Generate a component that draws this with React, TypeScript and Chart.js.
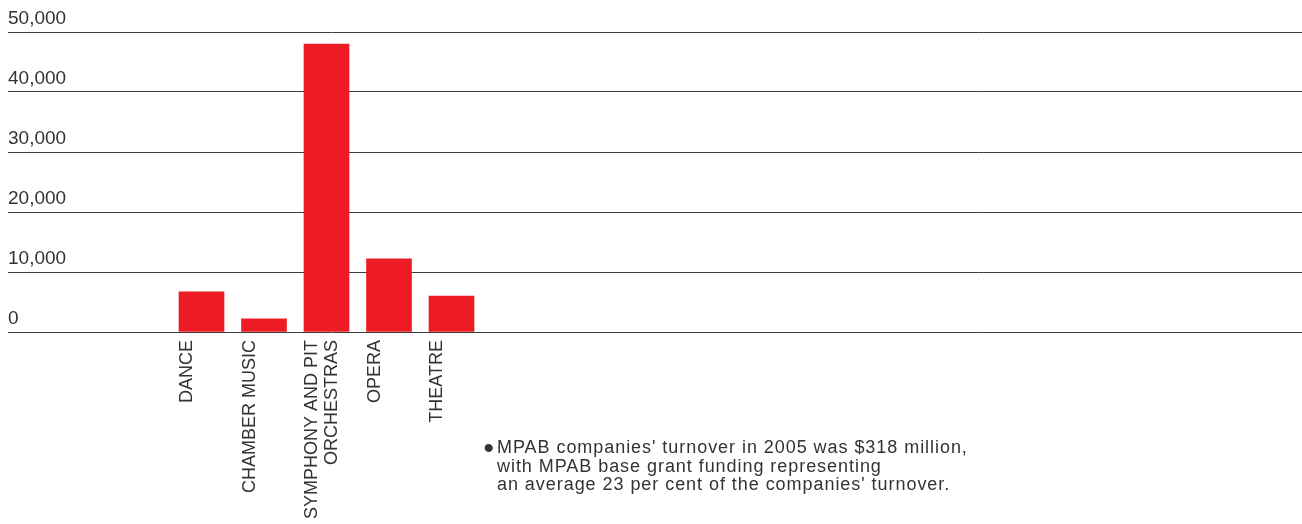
import React, { useEffect, useRef } from 'react';
import { Chart, registerables } from 'chart.js';

Chart.register(...registerables);

const categories: (string | string[])[] = [
  'DANCE',
  'CHAMBER MUSIC',
  ['SYMPHONY AND PIT', 'ORCHESTRAS'],
  'OPERA',
  'THEATRE',
];
const values: number[] = [6700, 2200, 48000, 12200, 6000];
const yTickValues: number[] = [0, 10000, 20000, 30000, 40000, 50000];
const noteLines: string[] = [
  "MPAB companies' turnover in 2005 was $318 million,",
  'with MPAB base grant funding representing',
  "an average 23 per cent of the companies' turnover.",
];

const FONT = '"Liberation Sans", Arial, Helvetica, sans-serif';
const TEXT = '#333333';

function fmt(v: number): string {
  return String(v).replace(/\B(?=(\d{3})+(?!\d))/g, ',');
}

export default function App() {
  const ref = useRef<HTMLCanvasElement>(null);

  useEffect(() => {
    if (!ref.current) return;
    const chart = new Chart(ref.current, {
      type: 'bar',
      data: {
        datasets: [
          {
            data: values.map((v, i) => ({ x: i, y: v })),
            backgroundColor: '#ED1C24',
            borderWidth: 0,
            barThickness: 45,
          },
        ],
      },
      options: {
        animation: false,
        responsive: false,
        maintainAspectRatio: false,
        layout: { padding: { top: 24, left: 0, right: 0, bottom: 0 } },
        plugins: { legend: { display: false }, tooltip: { enabled: false } },
        scales: {
          x: {
            type: 'linear',
            offset: false,
            min: -3.096,
            max: 17.608,
            grid: { display: false, drawTicks: false },
            border: { display: false },
            afterBuildTicks: (s: any) => {
              s.ticks = categories.map((_, i) => ({ value: i }));
            },
            afterFit: (s: any) => {
              s.height = 192;
            },
            ticks: {
              autoSkip: false,
              minRotation: 90,
              maxRotation: 90,
              padding: 8,
              labelOffset: -14,
              color: TEXT,
              font: { family: FONT, size: 18, lineHeight: 1.07 },
              callback: (v: any) => categories[v as number] ?? '',
            },
          },
          y: {
            min: 0,
            max: 50000,
            afterBuildTicks: (s: any) => {
              s.ticks = yTickValues.map((v) => ({ value: v }));
            },
            grid: { color: '#3c3c3c', lineWidth: 1, drawTicks: false },
            border: { display: false },
            ticks: {
              mirror: true,
              padding: 0,
              labelOffset: -13,
              color: TEXT,
              font: { family: FONT, size: 19 },
              callback: (v: any) => fmt(Number(v)),
            },
          },
        },
      },
    });
    return () => chart.destroy();
  }, []);

  return (
    <div
      style={{
        position: 'relative',
        width: 1302,
        height: 524,
        overflow: 'hidden',
        background: '#ffffff',
      }}
    >
      <style>{'html,body{margin:0;padding:0;background:#fff;}'}</style>
      <canvas
        ref={ref}
        width={1294}
        height={516}
        style={{ position: 'absolute', left: 8, top: 8, display: 'block', width: 1294, height: 516 }}
      />
      <div
        style={{
          position: 'absolute',
          left: 497,
          top: 438,
          fontFamily: FONT,
          fontSize: 18,
          letterSpacing: '0.95px',
          lineHeight: '18.5px',
          color: TEXT,
          whiteSpace: 'pre',
        }}
      >
        <span
          style={{
            position: 'absolute',
            left: -13.5,
            top: -5.3,
            fontSize: 30,
            lineHeight: '30px',
            letterSpacing: 0,
          }}
        >
          •
        </span>
        {noteLines.map((line, i) => (
          <div key={i}>{line}</div>
        ))}
      </div>
    </div>
  );
}
